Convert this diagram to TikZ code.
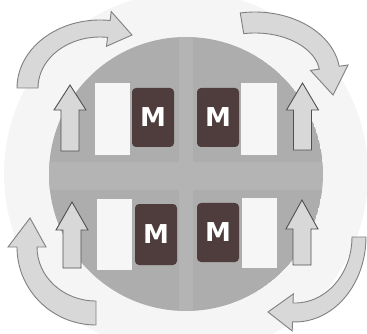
\documentclass[tikz,border=0pt]{standalone}
\usepackage{fontspec}
\newfontfamily\mfont{DejaVu Sans}
\usetikzlibrary{calc}
\definecolor{bgc}{HTML}{F5F5F5}
\definecolor{circc}{HTML}{ADADAD}
\definecolor{crossc}{HTML}{B4B4B4}
\definecolor{mboxc}{HTML}{4F3D3D}
\definecolor{slotc}{HTML}{F6F6F6}
\definecolor{arrfill}{HTML}{D8D8D8}
\definecolor{arrline}{HTML}{505050}
\definecolor{carrline}{HTML}{808080}
\tikzset{
  mbox/.style={fill=mboxc, rounded corners=4pt, minimum width=42, minimum height=59,
    inner sep=0pt, text=white, font=\mfont\bfseries\fontsize{26}{26}\selectfont},
  slot/.style={fill=slotc, draw=none, inner sep=0pt, minimum width=35, minimum height=72},
  uparrow/.style={fill=arrfill, draw=arrline, line width=0.9pt, line join=miter},
  curvearrow/.style={fill=arrfill, draw=carrline, line width=0.9pt, line join=miter}
}
% straight up arrow: #1 centre x, #2 tip y, #3 head base y, #4 bottom y
\newcommand\uparr[4]{%
  \draw[uparrow] (#1-9,#4) -- (#1-9,#3) -- (#1-16,#3) -- (#1,#2) -- (#1+16,#3)
    -- (#1+9,#3) -- (#1+9,#4) -- cycle;}
% curved arrow: centre (#1,#2), outer radii #3,#4, inner radii #5,#6,
% start angle #7 (tail), end angle #8 (head), tip #9
\newcommand\bendarr[9]{%
  \pgfmathsetmacro\hao{#3+9}\pgfmathsetmacro\hbo{#4+9}%
  \pgfmathsetmacro\hai{#5-9}\pgfmathsetmacro\hbi{#6-9}%
  \draw[curvearrow] ($(#1,#2)+(#7:{#3} and {#4})$)
    arc[start angle=#7, end angle=#8, x radius=#3, y radius=#4]
    -- ($(#1,#2)+(#8:{\hao} and {\hbo})$) -- #9
    -- ($(#1,#2)+(#8:{\hai} and {\hbi})$) -- ($(#1,#2)+(#8:{#5} and {#6})$)
    arc[start angle=#8, end angle=#7, x radius=#5, y radius=#6] -- cycle;}
\begin{document}
\begin{tikzpicture}[x=1pt,y=-1pt]
\useasboundingbox (0,0) rectangle (367,334);
\fill[white] (0,0) rectangle (367,334);
\begin{scope}
  \clip (0,0) rectangle (367,334);
  \fill[bgc] (186,174) circle[radius=182];
\end{scope}
% big circle with light cross
\begin{scope}
  \clip (186,174) circle[radius=137];
  \fill[circc] (186,174) circle[radius=137];
  \fill[crossc] (179,30) rectangle (193,320);
  \fill[crossc] (40,162) rectangle (340,190);
\end{scope}
% white slots
\node[slot] (s1) at (112.5,119) {};
\node[slot, minimum width=36] (s2) at (259,119) {};
\node[slot, minimum height=71] (s3) at (114.5,234.5) {};
\node[slot, minimum height=70] (s4) at (259.5,233) {};
% M boxes
\node[mbox] (m1) at (153,117.5) {M};
\node[mbox] (m2) at (218,117.5) {M};
\node[mbox, minimum height=61] (m3) at (156,234.5) {M};
\node[mbox] (m4) at (218,232.5) {M};
% straight arrows
\uparr{70}{85}{110}{151}
\uparr{302.5}{83}{110}{150}
\uparr{72}{202}{230}{268}
\uparr{302}{200}{229}{265}
% curved arrows
\bendarr{100}{88}{83}{68}{62}{51}{180}{277}{(132,35)}
\bendarr{255}{75}{85}{63}{65}{42}{260}{352}{(333,95)}
\bendarr{96}{247}{79}{78}{59}{54}{90}{180}{(30,218)}
\bendarr{295}{237}{71}{85}{57}{66}{0}{92}{(268,312)}
\end{tikzpicture}
\end{document}
